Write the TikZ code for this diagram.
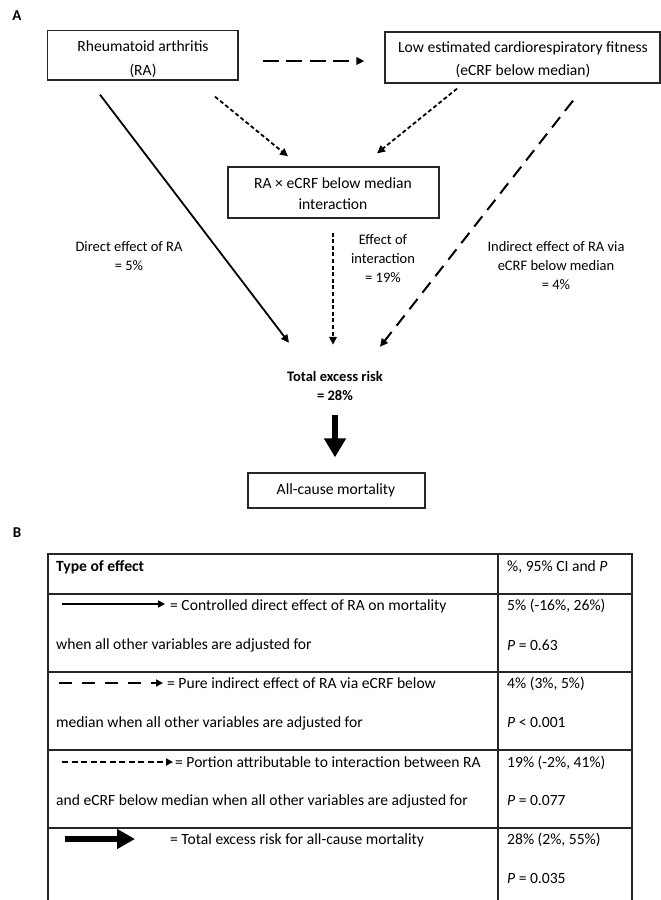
\documentclass[tikz,border=0pt]{standalone}
\usepackage{fontspec}
\setmainfont{Carlito}
\usetikzlibrary{arrows.meta}
\begin{document}
\begin{tikzpicture}[x=1pt,y=-1pt,
  box/.style={draw=black!85, line width=1.3pt, inner sep=0pt},
  boxtxt/.style={align=center, inner sep=0pt, font=\fontsize{15.6}{23.5}\selectfont},
  lbl/.style={align=center, inner sep=0pt, font=\fontsize{14.5}{19}\selectfont},
  tab/.style={anchor=base west, inner sep=0pt, font=\fontsize{15.6}{18}\selectfont},
  panel/.style={inner sep=0pt, font=\fontsize{15}{18}\selectfont\bfseries},
  tip/.style={-{Triangle[length=8pt,width=7.5pt]}},
  solidA/.style={line width=1.8pt, tip},
  dashA/.style={line width=2.4pt, dash pattern=on 16pt off 7.5pt, tip},
  longdashA/.style={line width=2pt, dash pattern=on 13pt off 8pt, tip},
  dotA/.style={line width=1.8pt, dash pattern=on 4pt off 2.6pt, tip},
  legsolid/.style={line width=1.6pt, -{Triangle[length=7pt,width=7pt]}},
  legdash/.style={line width=2.4pt, dash pattern=on 13pt off 10pt, -{Triangle[length=7pt,width=7pt]}},
  legdot/.style={line width=1.8pt, dash pattern=on 6pt off 3.5pt, -{Triangle[length=7pt,width=7pt]}},
  thickA/.style={line width=6.5pt, -{Triangle[length=19pt,width=21pt]}},
  tabline/.style={draw=black!85, line width=1.5pt}]
\useasboundingbox (0,0) rectangle (661,900);

% panel labels
\node[panel] (pA) at (17,16) {A};
\node[panel] (pB) at (17,533) {B};

% boxes
\node[box, minimum width=190.3pt, minimum height=49.3pt] (ra) at (142.85,55.35) {};
\node[boxtxt] (raT) at (143,59) {Rheumatoid arthritis\\(RA)};
\node[box, minimum width=275pt, minimum height=51pt] (low) at (522.5,57.5) {};
\node[boxtxt, font=\fontsize{15.6}{23}\selectfont] (lowT) at (523,59.5) {Low estimated cardiorespiratory fitness\\(eCRF below median)};
\node[box, minimum width=211pt, minimum height=51pt] (inter) at (333.5,192.5) {};
\node[boxtxt, font=\fontsize{15.6}{21}\selectfont] (interT) at (333,193.5) {RA × eCRF below median\\interaction};
\node[box, minimum width=177pt, minimum height=35pt] (allc) at (336.5,490.5) {};
\node[boxtxt] (allcT) at (336,490) {All-cause mortality};

% total
\node[lbl, font=\fontsize{14.5}{19}\selectfont\bfseries, minimum width=100pt, minimum height=40pt] (total) at (335,385.5) {Total excess risk\\= 28\%};

% labels
\node[lbl] (lDir) at (129,256.5) {Direct effect of RA\\= 5\%};
\node[lbl] (lInt) at (383,259) {Effect of\\interaction\\= 19\%};
\node[lbl] (lInd) at (556,266) {Indirect effect of RA via\\eCRF below median\\= 4\%};

% connectors
\draw[dashA] ([xshift=24pt,yshift=-5.65pt]ra.east) -- ([xshift=-20pt,yshift=-3.5pt]low.west);
\draw[solidA] ([xshift=-42.85pt,yshift=-14pt]ra.south) -- ([xshift=-46pt,yshift=22.5pt]total.north);
\draw[dotA] ([xshift=72.15pt,yshift=-16pt]ra.south) -- ([xshift=-45.5pt,yshift=10pt]inter.north);
\draw[dotA] ([xshift=-65.5pt,yshift=-5pt]low.south) -- ([xshift=43.5pt,yshift=13pt]inter.north);
\draw[longdashA] ([xshift=50.5pt,yshift=-17pt]low.south) -- ([xshift=45pt,yshift=18.5pt]total.north);
\draw[dotA] ([xshift=-0.5pt,yshift=-14pt]inter.south) -- ([xshift=-2pt,yshift=20.5pt]total.north);
\draw[thickA] ([yshift=-9.5pt]total.south) -- ([xshift=-1.5pt,yshift=15pt]allc.north);

% table
\draw[tabline] (48,900) -- (48,554) -- (632,554) -- (632,900);
\draw[tabline] (498,554) -- (498,900);
\foreach \yy in {594,672,750,828} \draw[tabline] (48,\yy) -- (632,\yy);

\node[tab, font=\fontsize{15.6}{18}\selectfont\bfseries] (h1) at (56,571) {Type of effect};
\node[tab] (h2) at (507,571) {\%, 95\% CI and \textit{P}};

\coordinate (l1a) at (62,604); \coordinate (l1b) at (165,604);
\draw[legsolid] (l1a) -- (l1b);
\node[tab] (r1a) at (170,610) {= Controlled direct effect of RA on mortality};
\node[tab] (r1b) at (56,649) {when all other variables are adjusted for};
\node[tab] (r1c) at (507,610) {5\% (-16\%, 26\%)};
\node[tab] (r1d) at (507,650) {\textit{P} = 0.63};

\coordinate (l2a) at (59,683); \coordinate (l2b) at (163,683);
\draw[legdash] (l2a) -- (l2b);
\node[tab] (r2a) at (167,688) {= Pure indirect effect of RA via eCRF below};
\node[tab] (r2b) at (56,727) {median when all other variables are adjusted for};
\node[tab] (r2c) at (507,688) {4\% (3\%, 5\%)};
\node[tab] (r2d) at (507,727) {\textit{P} < 0.001};

\coordinate (l3a) at (62,762); \coordinate (l3b) at (173,762);
\draw[legdot] (l3a) -- (l3b);
\node[tab] (r3a) at (175,767) {= Portion attributable to interaction between RA};
\node[tab] (r3b) at (56,805) {and eCRF below median when all other variables are adjusted for};
\node[tab] (r3c) at (507,767) {19\% (-2\%, 41\%)};
\node[tab] (r3d) at (507,805) {\textit{P} = 0.077};

\coordinate (l4a) at (65,839); \coordinate (l4b) at (135,839);
\draw[line width=6.5pt, -{Triangle[length=18pt,width=19pt]}] (l4a) -- (l4b);
\node[tab] (r4a) at (170,844) {= Total excess risk for all-cause mortality};
\node[tab] (r4c) at (507,844) {28\% (2\%, 55\%)};
\node[tab] (r4d) at (507,883) {\textit{P} = 0.035};
\end{tikzpicture}
\end{document}
